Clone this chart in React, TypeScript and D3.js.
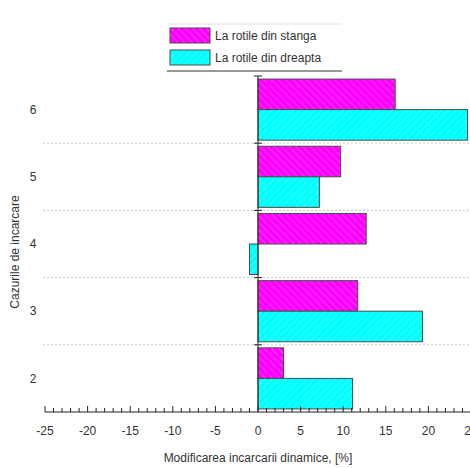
import React from 'react';
import * as d3 from 'd3';

const categories = ['6', '5', '4', '3', '2'];
const leftWheel = [16.1, 9.7, 12.7, 11.7, 3.0];
const rightWheel = [24.6, 7.2, -1.0, 19.3, 11.1];
const seriesNames = ['La rotile din stanga', 'La rotile din dreapta'];
const seriesColors = ['#ff00ff', '#00ffff'];
const hatchColors = ['#ff90ff', '#90ffff'];
const xTicks = [-25, -20, -15, -10, -5, 0, 5, 10, 15, 20, 25];

const W = 470;
const H = 468;
const font = 'Liberation Sans, Arial, sans-serif';

const App: React.FC = () => {
  const x = d3.scaleLinear().domain([-25, 25]).range([45, 471]);
  const y = d3.scaleBand().domain(categories).range([76, 412]).paddingInner(0).paddingOuter(0);
  const inner = d3.scaleBand().domain(['0', '1']).range([0, y.bandwidth()]).paddingInner(0).paddingOuter(0.1);
  const minor = d3.range(-25, 26, 1);
  const series = [leftWheel, rightWheel];
  const axisY = y.range()[1];

  return (
    <svg width={W} height={H} style={{ position: 'absolute', left: 0, top: 0, background: '#fff' }}>
      <defs>
        {seriesColors.map((col, i) => (
          <pattern key={i} id={`hatch${i}`} width="5" height="5" patternUnits="userSpaceOnUse"
            patternTransform={`rotate(${i === 0 ? -45 : 45})`}>
            <rect width="5" height="5" fill={col} />
            <line x1="0" y1="0" x2="0" y2="5" stroke={hatchColors[i]} strokeWidth="0.8" />
          </pattern>
        ))}
      </defs>

      {/* dotted separators */}
      {categories.slice(1).map(c => (
        <line key={c} x1={43} x2={W} y1={y(c)} y2={y(c)} stroke="#c8c8c8" strokeDasharray="2,2" />
      ))}

      {/* bars */}
      {series.map((vals, si) =>
        vals.map((v, i) => {
          const c = categories[i];
          const y0 = (y(c) as number) + (inner(String(si)) as number);
          return (
            <rect
              key={`${si}-${c}`}
              x={x(Math.min(0, v))}
              y={y0}
              width={Math.abs(x(v) - x(0))}
              height={inner.bandwidth()}
              fill={`url(#hatch${si})`}
              stroke="#4a4a4a"
              strokeWidth={1}
            />
          );
        })
      )}

      {/* y axis at zero */}
      <line x1={x(0)} x2={x(0)} y1={y.range()[0]} y2={axisY} stroke="#222" />
      {categories.map(c => (
        <line key={`yt${c}`} x1={x(0) - 4} x2={x(0) + 4} y1={y(c)} y2={y(c)} stroke="#222" />
      ))}
      {categories.map(c => (
        <text key={`yl${c}`} x={33} y={(y(c) as number) + y.bandwidth() / 2} dy="0.35em" textAnchor="middle"
          fontFamily={font} fontSize={12} fill="#333">{c}</text>
      ))}
      <text transform={`translate(19,252) rotate(-90)`} textAnchor="middle" fontFamily={font} fontSize={12} fill="#333">
        Cazurile de incarcare
      </text>

      {/* x axis */}
      <line x1={x(-25)} x2={W} y1={axisY} y2={axisY} stroke="#222" />
      {minor.map(t => (
        <line key={`m${t}`} x1={x(t)} x2={x(t)} y1={axisY} y2={axisY - (t % 5 === 0 ? 6 : 4)} stroke="#222" />
      ))}
      {xTicks.map(t => (
        <text key={`xl${t}`} x={x(t)} y={axisY + 23} textAnchor="middle" fontFamily={font} fontSize={12} fill="#333">{t}</text>
      ))}
      <text x={x(0)} y={axisY + 50} textAnchor="middle" fontFamily={font} fontSize={12} fill="#333">
        Modificarea incarcarii dinamice, [%]
      </text>

      {/* legend */}
      <line x1={167} x2={342} y1={24} y2={24} stroke="#e0e0e0" />
      <line x1={167} x2={342} y1={71} y2={71} stroke="#333" />
      {seriesNames.map((n, i) => (
        <g key={n} transform={`translate(170,${28 + i * 22})`}>
          <rect width={40} height={15} fill={`url(#hatch${i})`} stroke="#4a4a4a" />
          <text x={45} y={12} fontFamily={font} fontSize={12} fill="#333">{n}</text>
        </g>
      ))}
    </svg>
  );
};

export default App;
